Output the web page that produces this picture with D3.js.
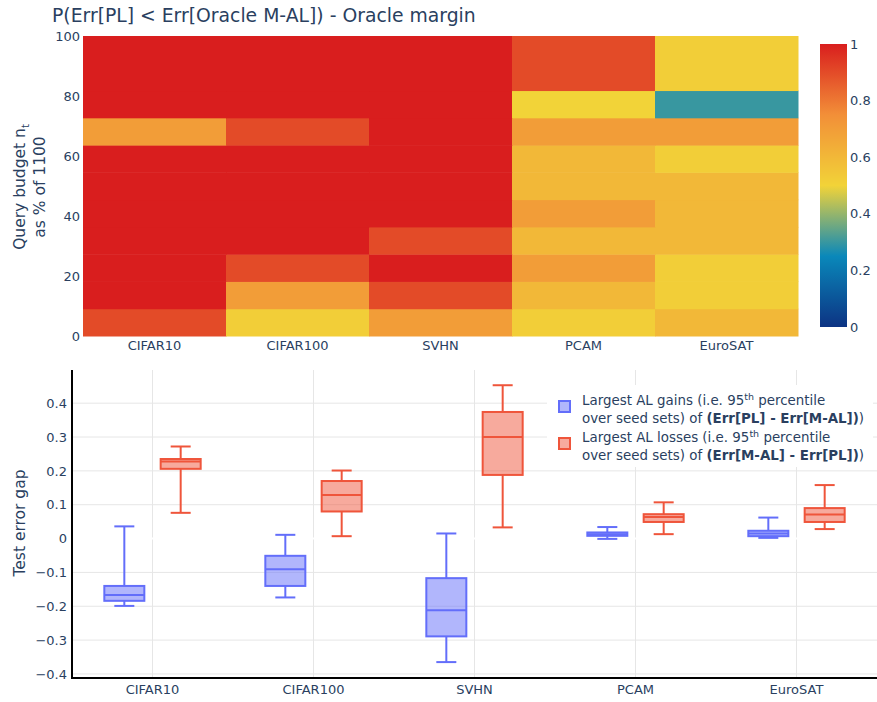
<!DOCTYPE html>
<html>
<head>
<meta charset="utf-8">
<script src="https://cdn.jsdelivr.net/npm/d3@7"></script>
<style>
  body { margin: 0; background: #fff; }
  svg { font-family: "DejaVu Sans", Verdana, sans-serif; }
</style>
</head>
<body>
<div id="chart"></div>
<script>
// ---- data ----
const datasets = ["CIFAR10", "CIFAR100", "SVHN", "PCAM", "EuroSAT"];
const budgetTotal = 1100;
// row edges of the heatmap, in number of queried samples
const budgetEdges = [0, 100, 200, 300, 400, 500, 600, 700, 800, 900, 1100];
// P(Err[PL] < Err[Oracle M-AL]), rows bottom -> top, one value per dataset
const probRows = [
    [0.9, 0.52, 0.7, 0.52, 0.6],
    [1, 0.7, 0.9, 0.6, 0.52],
    [1, 0.9, 1, 0.7, 0.52],
    [1, 1, 0.9, 0.6, 0.6],
    [1, 1, 1, 0.7, 0.6],
    [1, 1, 1, 0.6, 0.6],
    [1, 1, 1, 0.6, 0.52],
    [0.7, 0.9, 1, 0.7, 0.7],
    [1, 1, 1, 0.5, 0.3],
    [1, 1, 1, 0.9, 0.52]
];
const colorTicks = [0, 0.2, 0.4, 0.6, 0.8, 1];
const budgetTicks = [0, 20, 40, 60, 80, 100];

// box summaries per dataset: [lower fence, q1, median, q3, upper fence]
const gainBoxes = [
    [-0.199, -0.184, -0.167, -0.140, 0.036],
    [-0.174, -0.140, -0.091, -0.051, 0.011],
    [-0.365, -0.289, -0.212, -0.117, 0.015],
    [-0.001, 0.008, 0.013, 0.018, 0.034],
    [0.002, 0.007, 0.015, 0.023, 0.062]
];
const lossBoxes = [
    [0.076, 0.206, 0.228, 0.235, 0.272],
    [0.007, 0.080, 0.129, 0.170, 0.201],
    [0.033, 0.188, 0.300, 0.374, 0.453],
    [0.013, 0.049, 0.064, 0.072, 0.107],
    [0.028, 0.049, 0.071, 0.090, 0.158]
];
const gapTicks = [-0.4, -0.3, -0.2, -0.1, 0, 0.1, 0.2, 0.3, 0.4];

// ---- drawing ----
const width = 877, height = 702;
const textColor = "#2a3f5f";
const tickSize = 13;

const svg = d3.select("#chart").append("svg")
    .attr("width", width)
    .attr("height", height);

// Portland colour scale
const portland = [
    [0, "rgb(12,51,131)"], [0.25, "rgb(10,136,186)"], [0.5, "rgb(242,211,56)"],
    [0.75, "rgb(242,143,56)"], [1, "rgb(217,30,30)"]
];
const color = d3.scaleLinear()
    .domain(portland.map(d => d[0]))
    .range(portland.map(d => d[1]))
    .interpolate(d3.interpolateRgb);

// title
svg.append("text")
    .attr("x", 52).attr("y", 22)
    .attr("font-size", 18.8)
    .attr("fill", textColor)
    .text("P(Err[PL] < Err[Oracle M-AL]) - Oracle margin");

// heatmap
const hx = d3.scaleBand().domain(datasets).range([83, 798]);
const hy = d3.scaleLinear().domain([0, 100]).range([336, 36]);
const pct = v => v / budgetTotal * 100;

const cells = [];
probRows.forEach((row, r) => {
    row.forEach((v, c) => {
        cells.push({ ds: datasets[c], y0: pct(budgetEdges[r]), y1: pct(budgetEdges[r + 1]), v: v });
    });
});

svg.append("g").selectAll("rect")
    .data(cells)
    .join("rect")
    .attr("x", d => hx(d.ds))
    .attr("y", d => hy(d.y1))
    .attr("width", hx.bandwidth() + 0.5)
    .attr("height", d => hy(d.y0) - hy(d.y1) + 0.5)
    .attr("fill", d => color(d.v));

// heatmap axes
const hAxisY = svg.append("g")
    .attr("transform", "translate(83,0)")
    .call(d3.axisLeft(hy).tickValues(budgetTicks).tickSize(0).tickPadding(3));
const hAxisX = svg.append("g")
    .attr("transform", "translate(0,336)")
    .call(d3.axisBottom(hx).tickSize(0).tickPadding(5));
[hAxisY, hAxisX].forEach(a => {
    a.select(".domain").remove();
    a.selectAll("text").attr("fill", textColor).attr("font-size", tickSize)
        .attr("font-family", "DejaVu Sans, Verdana, sans-serif");
});

const hTitle = svg.append("text")
    .attr("transform", "translate(25,187) rotate(-90)")
    .attr("text-anchor", "middle")
    .attr("font-size", 15.5)
    .attr("fill", textColor);
hTitle.append("tspan").text("Query budget n");
hTitle.append("tspan").attr("font-size", 10).attr("dy", 4).text("t");
svg.append("text")
    .attr("transform", "translate(45,187) rotate(-90)")
    .attr("text-anchor", "middle")
    .attr("font-size", 15.5)
    .attr("fill", textColor)
    .text("as % of 1100");

// colour bar
const cb = d3.scaleLinear().domain([0, 1]).range([327, 44]);
const grad = svg.append("defs").append("linearGradient")
    .attr("id", "cbgrad")
    .attr("x1", 0).attr("y1", 1).attr("x2", 0).attr("y2", 0);
d3.range(0, 1.0001, 0.05).forEach(t => {
    grad.append("stop").attr("offset", t).attr("stop-color", color(t));
});
svg.append("rect")
    .attr("x", 820).attr("y", cb(1))
    .attr("width", 27).attr("height", cb(0) - cb(1))
    .attr("fill", "url(#cbgrad)");
const cbAxis = svg.append("g")
    .attr("transform", "translate(847,0)")
    .call(d3.axisRight(cb).tickValues(colorTicks).tickSize(0).tickPadding(3).tickFormat(d3.format("~g")));
cbAxis.select(".domain").remove();
cbAxis.selectAll("text").attr("fill", textColor).attr("font-size", tickSize)
    .attr("font-family", "DejaVu Sans, Verdana, sans-serif");

// ---- box plot ----
const bx = d3.scaleBand().domain(datasets).range([72, 877]);
const bInner = d3.scaleBand().domain(["gain", "loss"])
    .range([bx.bandwidth() * 0.15, bx.bandwidth() * 0.85]);
const by = d3.scaleLinear().domain([-0.412, 0.498]).range([678, 370]);
const gridColor = "#e6e6e6";

const grid = svg.append("g");
grid.selectAll("line.h")
    .data(gapTicks.filter(t => t !== 0))
    .join("line")
    .attr("class", "h")
    .attr("x1", 72).attr("x2", 877)
    .attr("y1", d => by(d)).attr("y2", d => by(d))
    .attr("stroke", gridColor);
grid.selectAll("line.v")
    .data(datasets)
    .join("line")
    .attr("class", "v")
    .attr("x1", d => bx(d) + bx.bandwidth() / 2).attr("x2", d => bx(d) + bx.bandwidth() / 2)
    .attr("y1", 370).attr("y2", 678)
    .attr("stroke", gridColor);
// zero line drawn in white, as in the original template
grid.append("line")
    .attr("x1", 72).attr("x2", 877)
    .attr("y1", by(0)).attr("y2", by(0))
    .attr("stroke", "#fff").attr("stroke-width", 2);

const series = [
    { key: "gain", boxes: gainBoxes, stroke: "#636efa", fill: "rgba(99,110,250,0.5)" },
    { key: "loss", boxes: lossBoxes, stroke: "#ef553b", fill: "rgba(239,85,59,0.5)" }
];

series.forEach(s => {
    const g = svg.append("g").selectAll("g")
        .data(s.boxes.map((b, i) => ({ ds: datasets[i], b: b })))
        .join("g")
        .attr("transform", d => `translate(${bx(d.ds) + bInner(s.key) + bInner.bandwidth() / 2},0)`);
    const bw = bInner.bandwidth() * 0.71;
    const cap = bw * 0.5;
    // whiskers
    g.append("line")
        .attr("x1", 0).attr("x2", 0)
        .attr("y1", d => by(d.b[0])).attr("y2", d => by(d.b[1]))
        .attr("stroke", s.stroke).attr("stroke-width", 2);
    g.append("line")
        .attr("x1", 0).attr("x2", 0)
        .attr("y1", d => by(d.b[3])).attr("y2", d => by(d.b[4]))
        .attr("stroke", s.stroke).attr("stroke-width", 2);
    [0, 4].forEach(k => {
        g.append("line")
            .attr("x1", -cap / 2).attr("x2", cap / 2)
            .attr("y1", d => by(d.b[k])).attr("y2", d => by(d.b[k]))
            .attr("stroke", s.stroke).attr("stroke-width", 2);
    });
    // box
    g.append("rect")
        .attr("x", -bw / 2).attr("width", bw)
        .attr("y", d => by(d.b[3]))
        .attr("height", d => by(d.b[1]) - by(d.b[3]))
        .attr("fill", s.fill)
        .attr("stroke", s.stroke).attr("stroke-width", 2);
    // median
    g.append("line")
        .attr("x1", -bw / 2).attr("x2", bw / 2)
        .attr("y1", d => by(d.b[2])).attr("y2", d => by(d.b[2]))
        .attr("stroke", s.stroke).attr("stroke-width", 2);
});

// axis lines
svg.append("line").attr("x1", 72).attr("x2", 72).attr("y1", 370).attr("y2", 679)
    .attr("stroke", "#000").attr("stroke-width", 2);
svg.append("line").attr("x1", 71).attr("x2", 877).attr("y1", 678).attr("y2", 678)
    .attr("stroke", "#000").attr("stroke-width", 2);

const bAxisY = svg.append("g")
    .attr("transform", "translate(71,0)")
    .call(d3.axisLeft(by).tickValues(gapTicks).tickSize(0).tickPadding(4)
        .tickFormat(d => d === 0 ? "0" : d3.format(".1f")(d).replace("-", "\u2212")));
const bAxisX = svg.append("g")
    .attr("transform", "translate(0,679)")
    .call(d3.axisBottom(bx).tickSize(0).tickPadding(6));
[bAxisY, bAxisX].forEach(a => {
    a.select(".domain").remove();
    a.selectAll("text").attr("fill", textColor).attr("font-size", tickSize)
        .attr("font-family", "DejaVu Sans, Verdana, sans-serif");
});

svg.append("text")
    .attr("transform", "translate(25,523) rotate(-90)")
    .attr("text-anchor", "middle")
    .attr("font-size", 15.5)
    .attr("fill", textColor)
    .text("Test error gap");

// legend
const legend = svg.append("g");
legend.append("rect")
    .attr("x", 547).attr("y", 385).attr("width", 326).attr("height", 82)
    .attr("fill", "#fff");
const legendItems = [
    { s: series[0], l1: "Largest AL gains (i.e. 95", bold: "(Err[PL] - Err[M-AL])" },
    { s: series[1], l1: "Largest AL losses (i.e. 95", bold: "(Err[M-AL] - Err[PL])" }
];
legendItems.forEach((it, i) => {
    const y0 = 405 + i * 37;
    legend.append("rect")
        .attr("x", 559).attr("y", y0 - 4).attr("width", 11).attr("height", 11)
        .attr("fill", it.s.fill).attr("stroke", it.s.stroke).attr("stroke-width", 2);
    const t1 = legend.append("text")
        .attr("x", 582).attr("y", y0)
        .attr("font-size", 13.4).attr("fill", textColor);
    t1.append("tspan").text(it.l1);
    t1.append("tspan").attr("font-size", 9.5).attr("dy", -5).text("th");
    t1.append("tspan").attr("dy", 5).text(" percentile");
    const t2 = legend.append("text")
        .attr("x", 582).attr("y", y0 + 17.5)
        .attr("font-size", 13.4).attr("fill", textColor);
    t2.append("tspan").text("over seed sets) of ");
    t2.append("tspan").attr("font-weight", "bold").text(it.bold);
    t2.append("tspan").text(")");
});
</script>
</body>
</html>
